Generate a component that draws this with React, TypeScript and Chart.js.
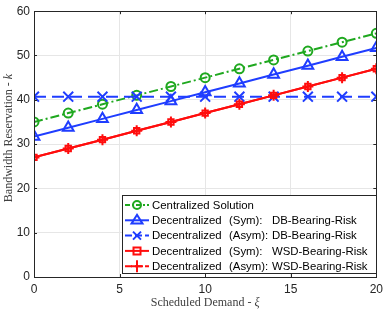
import React, { useEffect, useRef } from "react";
import { Chart, registerables } from "chart.js";

Chart.register(...registerables);

const demand = [0, 2, 4, 6, 8, 10, 12, 14, 16, 18, 20];
const centralized = [35, 37, 39, 41, 43, 45, 47, 49, 51, 53, 55];
const decSymDB = [31.7, 33.7, 35.7, 37.7, 39.7, 41.7, 43.7, 45.7, 47.7, 49.7, 51.7];
const decAsymDB = [40.7, 40.7, 40.7, 40.7, 40.7, 40.7, 40.7, 40.7, 40.7, 40.7, 40.7];
const decSymWSD = [27, 29, 31, 33, 35, 37, 39, 41, 43, 45, 47];
const decAsymWSD = [27, 29, 31, 33, 35, 37, 39, 41, 43, 45, 47];
const xTicks = [0, 5, 10, 15, 20];
const yTicks = [0, 10, 20, 30, 40, 50, 60];

const GREEN = "#1fa81f";
const BLUE = "#1f3dff";
const RED = "#ff0d0d";
const AXIS = "#262626";

type Item = {
  parts: string[];
  color: string;
  dash: number[];
  style: string;
  r: number;
};

const legendItems: Item[] = [
  { parts: ["Centralized Solution"], color: GREEN, dash: [5, 2, 2, 2], style: "circle", r: 4 },
  { parts: ["Decentralized", "(Sym):", "DB-Bearing-Risk"], color: BLUE, dash: [], style: "triangle", r: 5.5 },
  { parts: ["Decentralized", "(Asym):", "DB-Bearing-Risk"], color: BLUE, dash: [7, 3], style: "crossRot", r: 5 },
  { parts: ["Decentralized", "(Sym):", "WSD-Bearing-Risk"], color: RED, dash: [], style: "rect", r: 3.5 },
  { parts: ["Decentralized", "(Asym):", "WSD-Bearing-Risk"], color: RED, dash: [7, 3], style: "cross", r: 6 },
];

function drawMarker(ctx: CanvasRenderingContext2D, style: string, r: number, x: number, y: number) {
  ctx.beginPath();
  if (style === "circle") {
    ctx.arc(x, y, r, 0, Math.PI * 2);
  } else if (style === "triangle") {
    ctx.moveTo(x, y - r);
    ctx.lineTo(x + r, y + r * 0.6);
    ctx.lineTo(x - r, y + r * 0.6);
    ctx.closePath();
  } else if (style === "crossRot") {
    const d = r * 0.8;
    ctx.moveTo(x - d, y - d);
    ctx.lineTo(x + d, y + d);
    ctx.moveTo(x + d, y - d);
    ctx.lineTo(x - d, y + d);
  } else if (style === "rect") {
    ctx.rect(x - r, y - r, 2 * r, 2 * r);
  } else if (style === "cross") {
    ctx.moveTo(x - r, y);
    ctx.lineTo(x + r, y);
    ctx.moveTo(x, y - r);
    ctx.lineTo(x, y + r);
  }
  ctx.stroke();
}

const framePlugin = {
  id: "frame",
  afterDraw(chart: any) {
    const { ctx, chartArea } = chart;
    const { left, right, top, bottom } = chartArea;
    const xs = chart.scales.x;
    const ys = chart.scales.y;
    ctx.save();
    ctx.strokeStyle = AXIS;
    ctx.lineWidth = 1;
    ctx.setLineDash([]);
    ctx.strokeRect(Math.round(left) + 0.5, Math.round(top) + 0.5, Math.round(right - left), Math.round(bottom - top));
    ctx.beginPath();
    xTicks.forEach((v) => {
      const px = Math.round(xs.getPixelForValue(v)) + 0.5;
      ctx.moveTo(px, bottom);
      ctx.lineTo(px, bottom - 3);
      ctx.moveTo(px, top);
      ctx.lineTo(px, top + 3);
    });
    yTicks.forEach((v) => {
      const py = Math.round(ys.getPixelForValue(v)) + 0.5;
      ctx.moveTo(left, py);
      ctx.lineTo(left + 3, py);
      ctx.moveTo(right, py);
      ctx.lineTo(right - 3, py);
    });
    ctx.stroke();

    ctx.fillStyle = "#404040";
    ctx.textBaseline = "middle";
    const serif = "'Liberation Serif', 'Times New Roman', serif";
    {
      const a = "Scheduled Demand - ";
      const b = "\u03BE";
      ctx.font = `12px ${serif}`;
      const wa = ctx.measureText(a).width;
      ctx.font = `italic 12px ${serif}`;
      const wb = ctx.measureText(b).width;
      const cx = (left + right) / 2;
      const x0 = cx - (wa + wb) / 2;
      ctx.textAlign = "left";
      ctx.font = `12px ${serif}`;
      ctx.fillText(a, x0, 303);
      ctx.font = `italic 12px ${serif}`;
      ctx.fillText(b, x0 + wa, 303);
    }
    {
      const a = "Bandwidth Reservation - ";
      const b = "k";
      ctx.font = `12px ${serif}`;
      const wa = ctx.measureText(a).width;
      ctx.font = `italic 12px ${serif}`;
      const wb = ctx.measureText(b).width;
      ctx.save();
      ctx.translate(9, 138);
      ctx.rotate(-Math.PI / 2);
      const x0 = -(wa + wb) / 2;
      ctx.textAlign = "left";
      ctx.font = `12px ${serif}`;
      ctx.fillText(a, x0, 0);
      ctx.font = `italic 12px ${serif}`;
      ctx.fillText(b, x0 + wa, 0);
      ctx.restore();
    }

    const lx = 122, ly = 195, lw = Math.round(right) - 122, lh = 78;
    ctx.fillStyle = "#ffffff";
    ctx.fillRect(lx, ly, lw, lh);
    ctx.strokeStyle = AXIS;
    ctx.lineWidth = 1;
    ctx.strokeRect(lx + 0.5, ly + 0.5, lw, lh);
    const rowY = [205, 220.3, 235.6, 250.9, 266.2];
    const sans = "'Liberation Sans', Arial, sans-serif";
    legendItems.forEach((it, i) => {
      const y = rowY[i];
      ctx.strokeStyle = it.color;
      ctx.lineWidth = 2;
      ctx.setLineDash(it.dash);
      ctx.beginPath();
      ctx.moveTo(125, y);
      ctx.lineTo(149, y);
      ctx.stroke();
      ctx.setLineDash([]);
      ctx.lineWidth = 2;
      drawMarker(ctx, it.style, it.r, 137, y);
      ctx.fillStyle = "#000000";
      ctx.font = `11.4px ${sans}`;
      ctx.textAlign = "left";
      ctx.textBaseline = "middle";
      if (it.parts.length === 1) {
        ctx.fillText(it.parts[0], 152, y + 0.5);
      } else {
        ctx.fillText(it.parts[0], 152, y + 0.5);
        ctx.fillText(it.parts[1], 229, y + 0.5);
        ctx.fillText(it.parts[2], 272, y + 0.5);
      }
    });
    ctx.restore();
  },
};

export default function App() {
  const ref = useRef<HTMLCanvasElement | null>(null);
  useEffect(() => {
    document.body.style.margin = "0";
    const canvas = ref.current!;
    const mk = (label: string, data: number[], color: string, dash: number[], style: string, r: number) => ({
      label,
      data: demand.map((x, i) => ({ x, y: data[i] })),
      borderColor: color,
      backgroundColor: "rgba(0,0,0,0)",
      borderWidth: 2,
      borderDash: dash,
      pointStyle: style,
      pointRadius: r,
      pointBorderWidth: 2,
      pointBorderColor: color,
      pointBackgroundColor: "rgba(0,0,0,0)",
      tension: 0,
    });
    const chart = new Chart(canvas, {
      type: "line",
      data: {
        datasets: [
          mk("Decentralized (Asym): WSD-Bearing-Risk", decAsymWSD, RED, [], "cross", 5.5),
          mk("Decentralized (Sym): WSD-Bearing-Risk", decSymWSD, RED, [], "rect", 3.8),
          mk("Decentralized (Asym): DB-Bearing-Risk", decAsymDB, BLUE, [12, 6], "crossRot", 7),
          mk("Decentralized (Sym): DB-Bearing-Risk", decSymDB, BLUE, [], "triangle", 6.2),
          mk("Centralized Solution", centralized, GREEN, [9, 3, 2, 3], "circle", 4.5),
        ] as any,
      },
      options: {
        animation: false,
        responsive: false,
        maintainAspectRatio: false,
        layout: { padding: { top: 7, right: 10, left: 0, bottom: 0 } },
        plugins: { legend: { display: false }, tooltip: { enabled: false } },
        scales: {
          x: {
            type: "linear",
            min: 0,
            max: 20,
            afterFit: (s: any) => {
              s.height = 38;
            },
            afterBuildTicks: (s: any) => {
              s.ticks = xTicks.map((v) => ({ value: v }));
            },
            grid: { color: "#e6e6e6", lineWidth: 1, drawTicks: false },
            border: { display: false },
            ticks: {
              color: AXIS,
              font: { family: "'Liberation Sans', Arial, sans-serif", size: 12 },
              padding: 5,
              maxRotation: 0,
            },
          },
          y: {
            type: "linear",
            min: 0,
            max: 60,
            afterFit: (s: any) => {
              s.width = 34;
            },
            afterBuildTicks: (s: any) => {
              s.ticks = yTicks.map((v) => ({ value: v }));
            },
            grid: { color: "#e6e6e6", lineWidth: 1, drawTicks: false },
            border: { display: false },
            ticks: {
              color: AXIS,
              font: { family: "'Liberation Sans', Arial, sans-serif", size: 12 },
              padding: 4,
            },
          },
        },
      } as any,
      plugins: [framePlugin],
    });
    return () => chart.destroy();
  }, []);
  return (
    <div style={{ width: 388, height: 315 }}>
      <canvas ref={ref} width={388} height={315} style={{ display: "block", width: 388, height: 315 }} />
    </div>
  );
}
